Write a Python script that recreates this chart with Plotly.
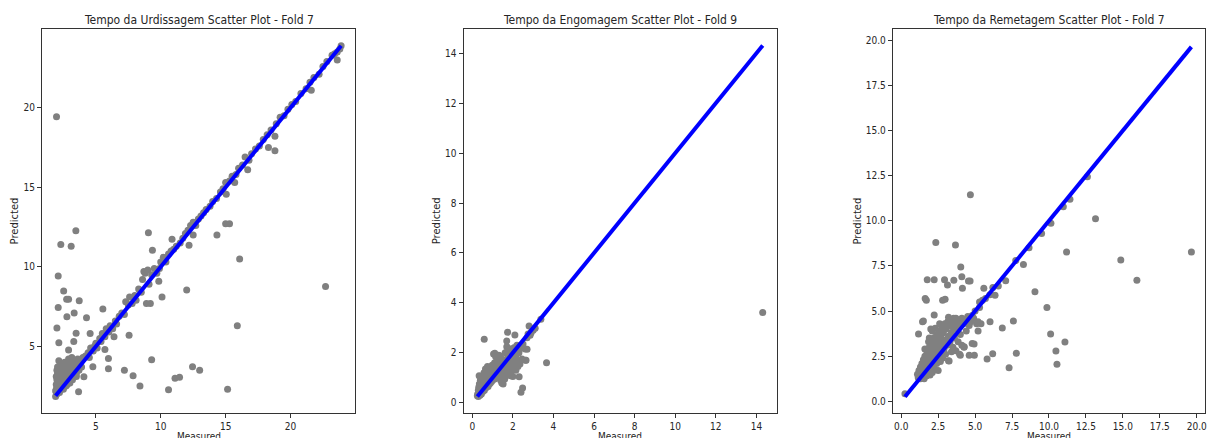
import plotly.graph_objects as go

# ---------------- Panel 1: Tempo da Urdissagem (Fold 7) ----------------
urd_title = "Tempo da Urdissagem Scatter Plot - Fold 7"
urd_cluster = [
    (1.9, 1.85), (1.95, 2.3), (2.0, 2.0), (2.0, 2.9), (2.05, 3.3), (2.1, 2.2), (2.1, 3.6), (2.15, 2.6),
    (2.2, 2.1), (2.2, 3.1), (2.25, 2.8), (2.3, 2.4), (2.3, 3.8), (2.35, 3.2), (2.4, 2.5), (2.45, 2.9),
    (2.5, 2.3), (2.5, 3.5), (2.55, 3.0), (2.6, 2.6), (2.6, 4.0), (2.7, 2.9), (2.75, 3.4), (2.8, 2.6),
    (2.85, 3.7), (2.9, 3.0), (3.0, 2.7), (3.05, 3.9), (3.1, 3.2), (3.2, 2.9), (3.3, 3.6), (3.4, 3.3),
    (3.5, 3.1), (3.6, 3.8), (3.7, 3.5), (3.8, 4.0), (3.9, 3.7), (4.0, 4.3), (1.95, 2.6), (2.0, 3.5),
    (2.05, 2.4), (2.1, 3.0), (2.15, 4.1), (2.2, 2.7), (2.3, 3.3), (2.4, 3.9), (2.5, 2.8), (2.6, 3.6),
    (2.7, 2.5), (2.8, 3.2), (2.9, 4.2), (3.0, 3.4), (3.1, 3.9), (3.2, 3.6), (3.3, 3.1), (3.4, 4.0),
    (3.5, 3.3), (3.7, 3.9), (1.9, 2.2), (2.0, 2.5), (2.1, 2.6), (2.2, 3.4), (2.3, 2.8), (2.4, 3.0),
    (2.5, 3.9), (2.6, 2.9), (2.8, 3.1), (3.0, 3.3), (3.2, 3.5), (3.4, 3.7), (1.95, 3.1), (2.05, 3.7),
    (2.25, 3.5), (2.45, 3.3), (2.65, 3.8), (2.95, 3.6), (3.15, 4.3), (3.6, 4.2),
]
urd_diag = [
    (4.2, 4.4), (4.4, 4.6), (4.5, 4.3), (4.6, 4.9), (4.8, 4.7), (4.9, 5.0), (5.0, 5.2), (5.1, 4.9),
    (5.3, 5.5), (5.4, 5.3), (5.5, 5.8), (5.7, 5.6), (5.8, 6.1), (6.0, 5.9), (6.1, 6.3), (6.3, 6.1),
    (6.5, 6.6), (6.6, 6.4), (6.8, 6.9), (7.0, 7.1), (7.2, 7.0), (7.3, 7.8), (7.5, 7.6), (7.6, 8.1),
    (7.8, 7.7), (8.0, 8.2), (8.1, 7.9), (8.3, 8.6), (8.5, 8.4), (8.6, 9.2), (8.7, 9.7), (8.8, 9.6),
    (9.0, 9.8), (9.1, 8.9), (9.3, 9.5), (9.5, 9.9), (9.7, 9.6), (9.9, 9.9), (10.0, 10.3), (10.2, 10.6),
    (10.4, 10.3), (10.6, 10.8), (10.8, 11.0), (11.0, 11.1), (11.2, 11.3), (11.5, 11.5), (11.7, 11.8),
    (11.9, 12.1), (12.1, 12.3), (12.3, 12.6), (12.5, 12.8), (12.7, 12.6), (12.9, 13.0), (13.1, 13.2),
    (13.3, 13.4), (13.5, 13.6), (13.8, 13.8), (14.0, 14.1), (14.3, 14.3), (14.6, 14.7), (14.8, 14.9),
    (15.0, 15.3), (15.3, 15.4), (15.5, 15.7), (15.8, 15.8), (16.0, 16.2), (16.3, 16.4), (16.5, 16.9),
    (16.8, 16.7), (17.0, 17.1), (17.3, 17.4), (17.6, 17.6), (17.9, 18.0), (18.2, 18.3), (18.5, 18.6),
    (18.9, 19.0), (19.2, 19.4), (19.5, 19.5), (19.8, 19.9), (20.1, 20.2), (20.4, 20.4), (20.8, 20.9),
    (21.2, 21.2), (21.5, 21.6), (21.8, 21.9), (22.2, 22.1), (22.5, 22.6), (22.8, 22.9), (23.2, 23.3),
    (23.4, 23.4), (23.6, 23.5), (23.8, 23.7), (23.9, 23.9),
]
urd_outliers = [
    (1.97, 19.43), (3.46, 12.27), (2.3, 11.4), (3.1, 11.3), (9.05, 12.14), (9.36, 11.04), (10.87, 11.73),
    (12.18, 11.35), (12.5, 12.0), (14.33, 12.0), (15.0, 12.7), (15.3, 12.7), (16.08, 10.49), (22.7, 8.76),
    (2.1, 9.43), (2.52, 8.48), (2.75, 7.96), (2.9, 7.96), (3.72, 7.87), (2.1, 7.44), (2.77, 6.86),
    (3.33, 7.1), (4.28, 6.8), (5.54, 7.35), (2.0, 6.16), (3.48, 5.82), (4.56, 5.8), (2.15, 5.22),
    (3.3, 5.3), (2.9, 4.77), (7.56, 5.69), (5.7, 4.8), (5.97, 4.24), (5.97, 3.59), (4.77, 3.72),
    (4.08, 3.09), (3.67, 2.15), (7.2, 3.5), (7.87, 3.15), (8.4, 2.5), (9.3, 4.16), (10.6, 2.27),
    (11.1, 3.0), (11.45, 3.05), (12.45, 3.72), (13.0, 3.5), (15.15, 2.3), (15.9, 6.3), (12.0, 8.55),
    (10.1, 8.1), (9.85, 9.1), (8.9, 7.7), (9.2, 7.7), (18.3, 17.5), (18.8, 17.3), (18.8, 18.2),
    (21.6, 21.1), (16.7, 16.1), (15.7, 15.3), (15.05, 14.56), (23.6, 23.0), (6.4, 5.6),
]

# ---------------- Panel 2: Tempo da Engomagem (Fold 9) ----------------
eng_title = "Tempo da Engomagem Scatter Plot - Fold 9"
eng_cluster = [
    (0.25, 0.28), (0.27, 0.35), (0.3, 0.5), (0.3, 0.25), (0.32, 0.62), (0.35, 0.4), (0.35, 0.75),
    (0.38, 0.3), (0.4, 0.55), (0.4, 0.9), (0.42, 0.45), (0.45, 0.7), (0.45, 0.35), (0.48, 1.05),
    (0.5, 0.6), (0.5, 0.8), (0.52, 0.45), (0.55, 0.95), (0.55, 0.65), (0.58, 1.2), (0.6, 0.5),
    (0.6, 0.8), (0.62, 1.0), (0.65, 0.7), (0.65, 1.35), (0.68, 0.6), (0.7, 0.9), (0.7, 1.1),
    (0.72, 0.75), (0.75, 1.45), (0.75, 1.0), (0.78, 0.65), (0.8, 0.85), (0.8, 1.25), (0.82, 1.05),
    (0.85, 0.75), (0.85, 1.4), (0.88, 0.95), (0.9, 1.15), (0.9, 0.8), (0.92, 1.3), (0.95, 1.0),
    (0.95, 0.85), (0.98, 1.5), (1.0, 1.1), (1.0, 0.9), (1.02, 1.3), (1.05, 1.95), (1.05, 1.0),
    (1.08, 1.2), (1.1, 1.6), (1.1, 0.95), (1.12, 1.4), (1.15, 1.1), (1.15, 1.85), (1.18, 1.25),
    (1.2, 1.5), (1.2, 1.05), (1.22, 1.7), (1.25, 1.3), (1.25, 1.0), (1.28, 1.55), (1.3, 1.2),
    (1.3, 1.9), (1.32, 1.4), (1.35, 1.1), (1.35, 1.65), (1.38, 1.35), (1.4, 0.9), (1.4, 1.8),
    (1.42, 1.5), (1.45, 1.25), (1.45, 0.8), (1.48, 1.6), (1.5, 1.4), (1.5, 1.05), (1.52, 0.75),
    (1.55, 1.7), (1.55, 1.3), (1.58, 1.5), (1.6, 1.15), (1.6, 0.95), (1.62, 2.0), (1.65, 1.6),
    (1.68, 1.35), (1.7, 1.75), (1.72, 1.1), (1.75, 1.5), (1.75, 2.2), (1.78, 1.3), (1.8, 1.85),
    (1.8, 1.6), (1.85, 1.4), (1.85, 2.1), (1.9, 1.7), (1.9, 1.2), (1.95, 2.0), (1.95, 1.5),
    (2.0, 1.05), (2.0, 1.8), (2.05, 2.2), (2.05, 1.35), (2.1, 1.6), (2.15, 1.9), (2.15, 1.3),
    (2.2, 2.3), (2.2, 1.7), (2.25, 1.45), (2.3, 2.0), (2.35, 1.55), (2.4, 2.2), (2.45, 1.75),
    (2.5, 2.35), (2.6, 2.15), (2.65, 1.7), (2.7, 2.6), (2.75, 2.75), (2.85, 2.7), (2.9, 2.8),
    (2.95, 2.95), (3.0, 2.9), (3.1, 2.98), (3.38, 3.34), (2.8, 3.07),
]
eng_outliers = [
    (14.31, 3.62), (3.66, 1.6), (0.59, 2.54), (1.74, 2.82), (2.1, 2.71), (1.7, 2.47), (2.7, 2.14),
    (2.62, 1.7), (2.31, 1.04), (2.48, 0.59), (2.4, 0.42), (1.49, 0.78), (0.34, 1.08), (1.11, 1.98),
    (1.35, 1.88), (1.7, 2.24), (1.9, 1.08),
]

# ---------------- Panel 3: Tempo da Remetagem (Fold 7) ----------------
rem_title = "Tempo da Remetagem Scatter Plot - Fold 7"
rem_cluster = [
    (1.1, 1.5), (1.15, 1.3), (1.2, 1.7), (1.25, 1.45), (1.3, 1.9), (1.3, 1.25), (1.35, 1.6), (1.4, 2.1),
    (1.4, 1.4), (1.45, 1.8), (1.5, 1.55), (1.5, 2.3), (1.55, 1.25), (1.6, 1.95), (1.6, 2.5), (1.65, 1.65),
    (1.7, 2.2), (1.7, 1.4), (1.75, 2.7), (1.8, 1.85), (1.8, 2.4), (1.85, 1.55), (1.9, 2.1), (1.9, 3.0),
    (1.95, 1.45), (2.0, 2.6), (2.0, 1.8), (2.05, 3.3), (2.1, 2.3), (2.1, 1.6), (2.15, 2.9), (2.2, 2.0),
    (2.2, 3.5), (2.25, 2.6), (2.3, 1.75), (2.3, 3.1), (2.35, 2.4), (2.4, 3.7), (2.4, 2.1), (2.45, 2.8),
    (2.5, 3.3), (2.5, 1.7), (2.55, 2.5), (2.6, 3.9), (2.6, 3.0), (2.65, 2.2), (2.7, 3.5), (2.7, 2.7),
    (2.75, 4.1), (2.8, 3.2), (2.8, 2.4), (2.85, 3.8), (2.9, 2.9), (2.95, 4.3), (3.0, 3.4), (3.0, 2.6),
    (3.05, 4.0), (3.1, 3.1), (3.15, 4.4), (3.2, 3.6), (3.2, 2.25), (3.25, 4.2), (3.3, 3.3), (3.35, 4.5),
    (3.4, 3.8), (3.4, 2.75), (3.5, 4.1), (3.5, 3.0), (3.55, 4.6), (3.6, 3.5), (3.65, 4.3), (3.7, 2.8),
    (3.75, 4.0), (3.8, 4.5), (3.85, 3.3), (3.9, 4.2), (3.95, 2.6), (4.0, 4.4), (4.0, 3.7), (4.1, 4.6),
    (4.1, 3.1), (4.2, 4.3), (4.25, 3.0), (4.3, 4.5), (4.4, 3.9), (4.5, 4.7), (4.6, 2.55), (4.6, 4.2),
    (4.7, 4.4), (4.8, 3.2), (4.9, 4.6), (4.95, 2.55), (5.0, 5.0), (5.1, 4.3), (5.2, 4.4), (5.3, 5.5),
    (5.4, 4.3), (5.5, 5.6), (5.2, 3.9), (1.9, 3.5), (2.0, 4.0), (2.1, 3.9), (1.85, 3.3), (2.3, 4.05),
    (2.6, 4.3), (3.7, 4.6), (3.2, 4.65), (2.2, 2.9), (2.35, 3.2), (2.5, 3.6), (1.6, 2.9), (2.05, 2.75),
]
rem_outliers = [
    (0.25, 0.42), (1.17, 3.73), (1.44, 4.4), (1.5, 4.45), (2.23, 4.78), (1.62, 5.7), (1.7, 5.6),
    (2.8, 5.6), (2.97, 5.65), (3.13, 6.45), (2.93, 6.74), (1.76, 6.74), (2.23, 6.74), (3.56, 6.7),
    (4.1, 6.9), (4.55, 6.67), (4.66, 6.67), (4.14, 6.26), (5.59, 6.26), (2.34, 8.8), (3.67, 8.66),
    (4.03, 7.44), (4.68, 11.44), (5.7, 5.7), (6.0, 5.9), (6.2, 6.3), (6.57, 6.39), (7.07, 6.68),
    (6.35, 5.87), (6.01, 4.41), (6.84, 4.06), (7.59, 4.45), (7.79, 2.66), (7.3, 1.86), (6.19, 2.64),
    (5.81, 2.34), (4.93, 3.17), (4.0, 2.55), (3.24, 2.23), (4.26, 3.02), (8.27, 7.58), (7.75, 7.8),
    (9.05, 6.07), (9.86, 5.19), (10.11, 3.73), (10.47, 2.79), (10.54, 2.05), (11.08, 3.28),
    (11.19, 8.27), (14.86, 7.83), (15.95, 6.7), (19.64, 8.27), (10.13, 9.86), (9.5, 9.3),
    (8.65, 8.51), (12.6, 12.44), (11.42, 11.2), (10.97, 10.78), (13.15, 10.12), (5.3, 5.2),
    (4.8, 4.75),
]

panels = [
    (urd_title, urd_cluster + urd_diag + urd_outliers, [0.846, 25.0], [0.81, 24.95],
     [5, 10, 15, 20], ["5", "10", "15", "20"], [5, 10, 15, 20], ["5", "10", "15", "20"]),
    (eng_title, eng_cluster + eng_outliers, [-0.43, 15.0], [-0.41, 14.97],
     [0, 2, 4, 6, 8, 10, 12, 14], ["0", "2", "4", "6", "8", "10", "12", "14"],
     [0, 2, 4, 6, 8, 10, 12, 14], ["0", "2", "4", "6", "8", "10", "12", "14"]),
    (rem_title, rem_cluster + rem_outliers, [-0.57, 20.56], [-0.65, 20.63],
     [0, 2.5, 5, 7.5, 10, 12.5, 15, 17.5, 20],
     ["0.0", "2.5", "5.0", "7.5", "10.0", "12.5", "15.0", "17.5", "20.0"],
     [0, 2.5, 5, 7.5, 10, 12.5, 15, 17.5, 20],
     ["0.0", "2.5", "5.0", "7.5", "10.0", "12.5", "15.0", "17.5", "20.0"]),
]

W, H = 1207, 438
boxes_px = [(42, 356), (464.3, 778), (894.3, 1207)]
title_cx = [199, 621, 1051]
ylabel_px = [15.5, 438, 859]
top_px, bot_px = 29, 413

FONT = "DejaVu Sans Condensed, DejaVu Sans"
VFONT = "DejaVu Sans"
TXT = "#262626"
fig = go.Figure()
layout = dict(width=W, height=H, margin=dict(l=0, r=0, t=0, b=0),
              paper_bgcolor="white", plot_bgcolor="white", showlegend=False,
              font=dict(family=FONT, size=10, color=TXT))
annotations = []

for i, (title, pts, xr, yr, xt, xtt, yt, ytt) in enumerate(panels):
    n = "" if i == 0 else str(i + 1)
    xs = [p[0] for p in pts]
    ys = [p[1] for p in pts]
    fig.add_trace(go.Scatter(x=xs, y=ys, mode="markers", xaxis="x" + n, yaxis="y" + n,
                             marker=dict(color="gray", size=7, line=dict(width=0)),
                             hoverinfo="skip"))
    lo, hi = min(xs), max(xs)
    fig.add_trace(go.Scatter(x=[lo, hi], y=[lo, hi], mode="lines", xaxis="x" + n, yaxis="y" + n,
                             line=dict(color="blue", width=4), hoverinfo="skip"))
    l, r = boxes_px[i]
    axcommon = dict(showgrid=False, zeroline=False, showline=True, mirror=True,
                    linecolor="#333333", linewidth=1, ticks="outside", ticklen=4,
                    tickwidth=1, tickcolor="#333333", ticklabeloverflow="allow",
                    tickfont=dict(family=FONT, size=10, color=TXT))
    layout["xaxis" + n] = dict(domain=[l / W, r / W], range=xr, anchor="y" + n,
                               tickvals=xt, ticktext=xtt, **axcommon)
    layout["yaxis" + n] = dict(domain=[(H - bot_px) / H, (H - top_px) / H], range=yr,
                               anchor="x" + n, tickvals=yt, ticktext=ytt, **axcommon)
    annotations.append(dict(text=title, x=title_cx[i] / W, y=(H - 20) / H, xref="paper", yref="paper",
                            xanchor="center", yanchor="middle", showarrow=False,
                            font=dict(family=FONT, size=12, color=TXT)))
    annotations.append(dict(text="Measured", x=((l + r) / 2 if i < 2 else title_cx[i]) / W,
                            y=(H - 429) / H,
                            xref="paper", yref="paper", xanchor="center", yanchor="top",
                            showarrow=False, font=dict(family=FONT, size=10, color=TXT)))
    annotations.append(dict(text="Predicted", x=ylabel_px[i] / W, y=(H - (top_px + bot_px) / 2) / H,
                            xref="paper", yref="paper", xanchor="center", yanchor="middle",
                            textangle=-90, showarrow=False,
                            font=dict(family=VFONT, size=10, color=TXT)))

layout["annotations"] = annotations
fig.update_layout(**layout)
fig.write_html("out.html")
